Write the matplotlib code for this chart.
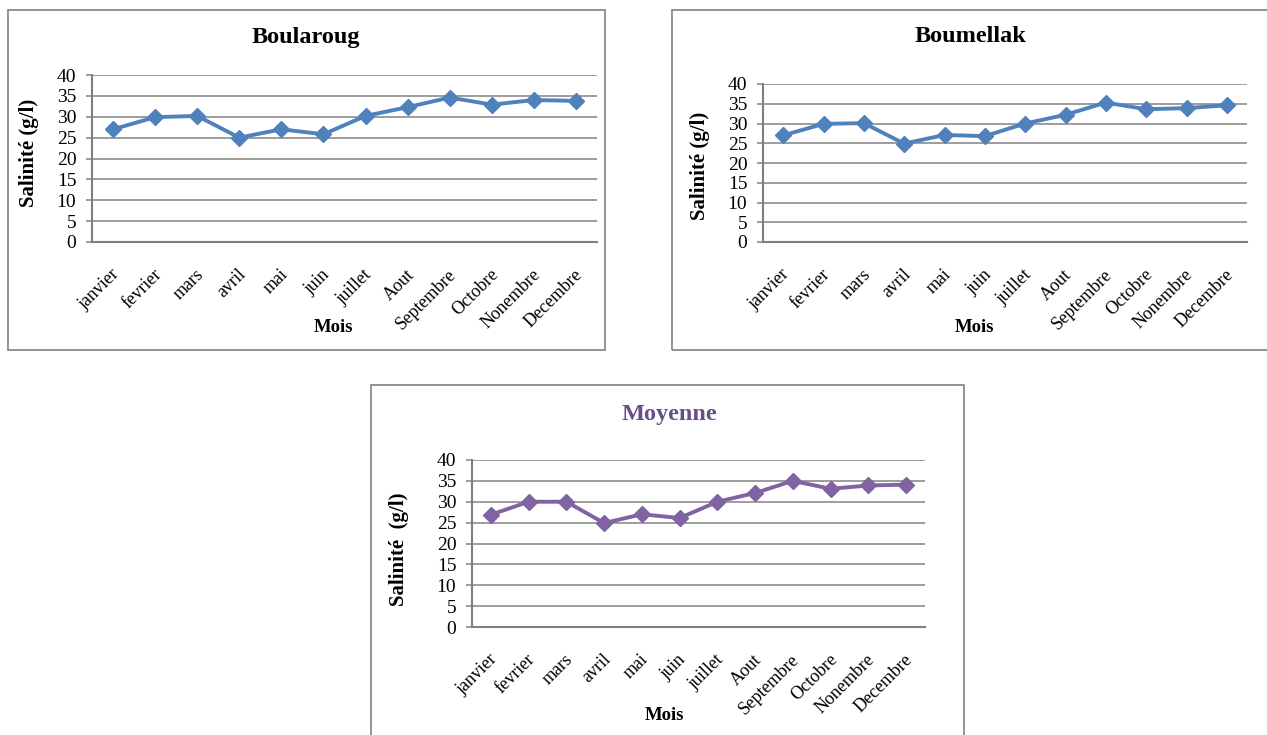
import matplotlib
matplotlib.use("Agg")
import matplotlib.pyplot as plt
import matplotlib.transforms as mtransforms
from matplotlib.patches import Rectangle

# Monthly salinity (g/l)
months = ['janvier', 'fevrier', 'mars', 'avril', 'mai', 'juin', 'juillet',
          'Aout', 'Septembre', 'Octobre', 'Nonembre', 'Decembre']
boularoug = [27.0, 29.9, 30.2, 25.0, 27.0, 25.8, 30.2, 32.3, 34.6, 32.9, 34.0, 33.8]
boumellak = [27.0, 29.9, 30.1, 24.9, 27.1, 26.8, 30.0, 32.2, 35.3, 33.6, 33.9, 34.6]
moyenne = [26.9, 30.0, 30.0, 24.9, 27.0, 26.1, 30.0, 32.1, 35.0, 33.1, 33.9, 34.1]
y_ticks = [0, 5, 10, 15, 20, 25, 30, 35, 40]

W, H = 1267, 735
plt.rcParams['font.family'] = ['Liberation Serif', 'DejaVu Serif']
fig = plt.figure(figsize=(W / 100, H / 100), dpi=100)

BLUE = '#4F81BD'
PURPLE = '#8064A2'
GRID = '#8c8c8c'
FRAME = '#8a8a8a'


def fx(x):
    return x / W


def fy(y):
    return 1 - y / H


def frame(l, t, r, b):
    fig.patches.append(Rectangle((fx(l), fy(b)), fx(r) - fx(l), fy(t) - fy(b),
                                 transform=fig.transFigure, fill=False,
                                 edgecolor=FRAME, linewidth=1.3))


def chart(box, values, color, title, title_xy, title_color, ylab, ylab_xy, xlab_xy):
    l, t, r, b = box
    ax = fig.add_axes([fx(l), fy(b), fx(r) - fx(l), fy(t) - fy(b)])
    x = list(range(len(months)))
    ax.plot(x, values, color=color, linewidth=2.8, marker='D', markersize=8,
            markerfacecolor=color, markeredgecolor=color, zorder=3)
    ax.set_xlim(-0.5, len(months) - 0.5)
    ax.set_ylim(0, 40)
    ax.set_yticks(y_ticks)
    ax.set_yticklabels([str(v) for v in y_ticks], fontsize=14)
    ax.set_xticks(x)
    ax.set_xticklabels([])
    # rotated month names, anchored by their right end below each category
    shift = mtransforms.ScaledTranslation(4 / 100, -30 / 100, fig.dpi_scale_trans)
    for xi, name in zip(x, months):
        ax.text(xi, 0, name, transform=ax.get_xaxis_transform() + shift,
                fontsize=13, rotation=45, ha='right', va='center',
                rotation_mode='anchor', clip_on=False)
    ax.tick_params(axis='x', length=0)
    ax.tick_params(axis='y', length=4.3, width=1.2, color=GRID, pad=7)
    ax.yaxis.grid(True, color=GRID, linewidth=1.2)
    ax.set_axisbelow(True)
    for s in ('top', 'right'):
        ax.spines[s].set_visible(False)
    for s in ('left', 'bottom'):
        ax.spines[s].set_color('#7f7f7f')
        ax.spines[s].set_linewidth(1.5)
    fig.text(fx(title_xy[0]), fy(title_xy[1]), title, fontsize=17.5,
             fontweight='bold', color=title_color, ha='center', va='center')
    fig.text(fx(ylab_xy[0]), fy(ylab_xy[1]), ylab, fontsize=15,
             fontweight='bold', rotation=90, ha='center', va='center')
    fig.text(fx(xlab_xy[0]), fy(xlab_xy[1]), 'Mois', fontsize=13.5,
             fontweight='bold', ha='center', va='center')
    return ax


frame(8, 10, 605, 350)
frame(672, 10, 1290, 350)
frame(371, 385, 964, 760)

chart((92, 75, 597, 242), boularoug, BLUE, 'Boularoug', (306, 38), 'black',
      'Salinité (g/l)', (29, 153), (333, 328))
chart((763, 84, 1247, 242), boumellak, BLUE, 'Boumellak', (970, 37), 'black',
      'Salinité (g/l)', (700, 166), (974, 327))
chart((472, 460, 925, 627), moyenne, PURPLE, 'Moyenne', (669, 415), '#664F88',
      'Salinité  (g/l)', (399, 549), (664, 715))

fig.savefig('out.png', dpi=100)
